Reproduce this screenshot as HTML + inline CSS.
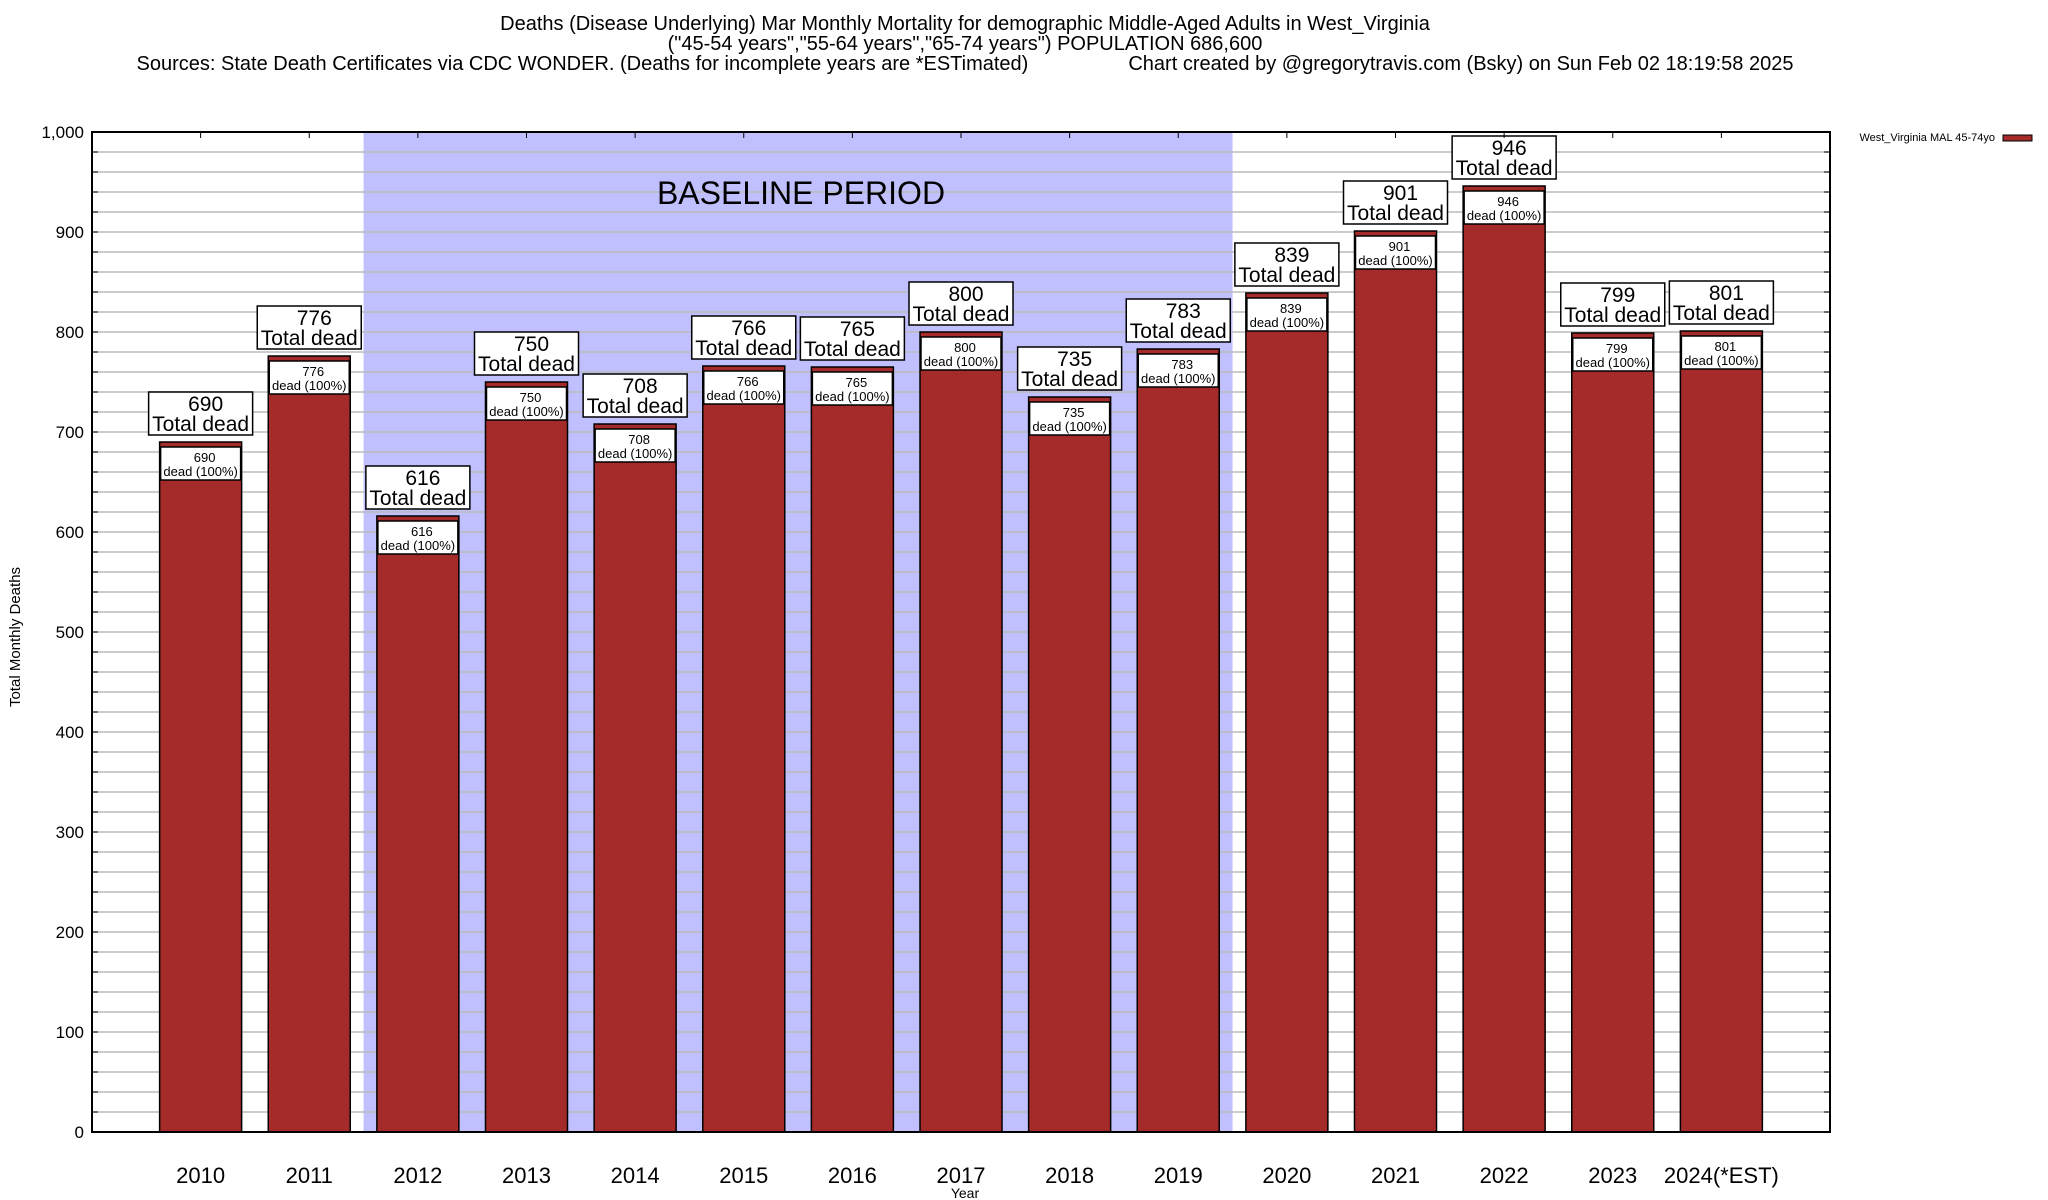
<!DOCTYPE html>
<html><head><meta charset="utf-8"><style>
html,body{margin:0;padding:0;background:#fff;}
svg{display:block;font-family:"Liberation Sans",sans-serif;}
</style></head><body>
<svg id="chart" width="2048" height="1200" xmlns="http://www.w3.org/2000/svg">
<g font-size="20" text-anchor="middle" fill="#000">
<text x="965" y="30">Deaths (Disease Underlying) Mar Monthly Mortality for demographic Middle-Aged Adults in West_Virginia</text>
<text x="965" y="50">("45-54 years","55-64 years","65-74 years") POPULATION 686,600</text>
<text x="965" y="70" xml:space="preserve">Sources: State Death Certificates via CDC WONDER. (Deaths for incomplete years are *ESTimated)                  Chart created by @gregorytravis.com (Bsky) on Sun Feb 02 18:19:58 2025</text>
</g>
<g id="plot"></g>
<text x="20" y="637" transform="rotate(-90 20 637)" text-anchor="middle" font-size="15">Total Monthly Deaths</text>
<text x="965" y="1198" text-anchor="middle" font-size="14">Year</text>
<g>
<text x="1995" y="141" text-anchor="end" font-size="11">West_Virginia MAL 45-74yo</text>
<rect x="2003" y="135" width="29" height="6" fill="#a52a2a" stroke="#000" stroke-width="1"></rect>
</g>
</svg>
<script>
const categories = ["2010","2011","2012","2013","2014","2015","2016","2017","2018","2019","2020","2021","2022","2023","2024(*EST)"];
const deaths = [690,776,616,750,708,766,765,800,735,783,839,901,946,799,801];
const yTicks = [0,100,200,300,400,500,600,700,800,900,1000];
const yTickLabels = ["0","100","200","300","400","500","600","700","800","900","1,000"];
const baselineStart = 2, baselineEnd = 9;

const NS = "http://www.w3.org/2000/svg";
const L = 92, R = 1830, T = 132, B = 1132;
const yMax = 1000;
const step = (R - L) / (categories.length + 1);
function x(i){ return L + (i + 1) * step; }
function y(v){ return B - (v / yMax) * (B - T); }
const plot = document.getElementById("plot");
function mk(tag, attrs, parent){
  const e = document.createElementNS(NS, tag);
  for (const k in attrs) e.setAttribute(k, attrs[k]);
  (parent || plot).appendChild(e);
  return e;
}
const shade = mk("rect", {x: x(baselineStart) - step/2, y: T, width: (baselineEnd - baselineStart + 1) * step, height: B - T, fill: "#c0c0ff"});


for (let v = 20; v < yMax; v += 20) {
  const g = mk("line", {x1: L, x2: R, y1: y(v), y2: y(v), stroke: "#bbb", "stroke-width": 1.5});
  
  
  const t1 = mk("line", {x1: L, x2: L + 6, y1: y(v), y2: y(v), stroke: "#000"});
  
  
  const t2 = mk("line", {x1: R - 6, x2: R, y1: y(v), y2: y(v), stroke: "#000"});
  
  
}
const bl = mk("text", {x: 801, y: 204, "font-size": 32, "text-anchor": "middle"});
bl.textContent = "BASELINE PERIOD";


yTicks.forEach((v, i) => {
  const t = mk("text", {x: L - 8, y: y(v) + 6, "font-size": 17, "text-anchor": "end"});
  t.textContent = yTickLabels[i];
  
  
});
const bw = 82;
categories.forEach((c, i) => {
  const v = deaths[i], cx = x(i), top = y(v);
  const g = mk("g", {});
  
  
  mk("rect", {x: cx - bw/2, y: top, width: bw, height: B - top, fill: "#a52a2a", stroke: "#000", "stroke-width": 1.5}, g);
  const ib = mk("rect", {x: cx - bw/2 + 1, y: top + 5, width: bw - 2, height: 33, fill: "#fff", stroke: "#000", "stroke-width": 1.5}, g);
  
  
  const t1 = mk("text", {x: cx + 4, y: top + 20, "font-size": 13, "text-anchor": "middle"}, g);
  t1.textContent = v;
  
  
  const t2 = mk("text", {x: cx, y: top + 34, "font-size": 13, "text-anchor": "middle"}, g);
  t2.textContent = "dead (100%)";
  
  
  const ob = mk("rect", {x: cx - 52, y: top - 50, width: 104, height: 43, fill: "#fff", stroke: "#000", "stroke-width": 1.5}, g);
  
  
  const t3 = mk("text", {x: cx + 5, y: top - 31, "font-size": 21, "text-anchor": "middle"}, g);
  t3.textContent = v;
  
  
  const t4 = mk("text", {x: cx, y: top - 11, "font-size": 21, "text-anchor": "middle"}, g);
  t4.textContent = "Total dead";
  
  
  const xl = mk("text", {x: cx, y: 1183, "font-size": 22, "text-anchor": "middle"});
  xl.textContent = c;
  
  
  const tt = mk("line", {x1: cx, x2: cx, y1: T, y2: T + 6, stroke: "#000"});
  
  
});
const frame = mk("rect", {x: L, y: T, width: R - L, height: B - T, fill: "none", stroke: "#000", "stroke-width": 2});


</script>
</body></html>
